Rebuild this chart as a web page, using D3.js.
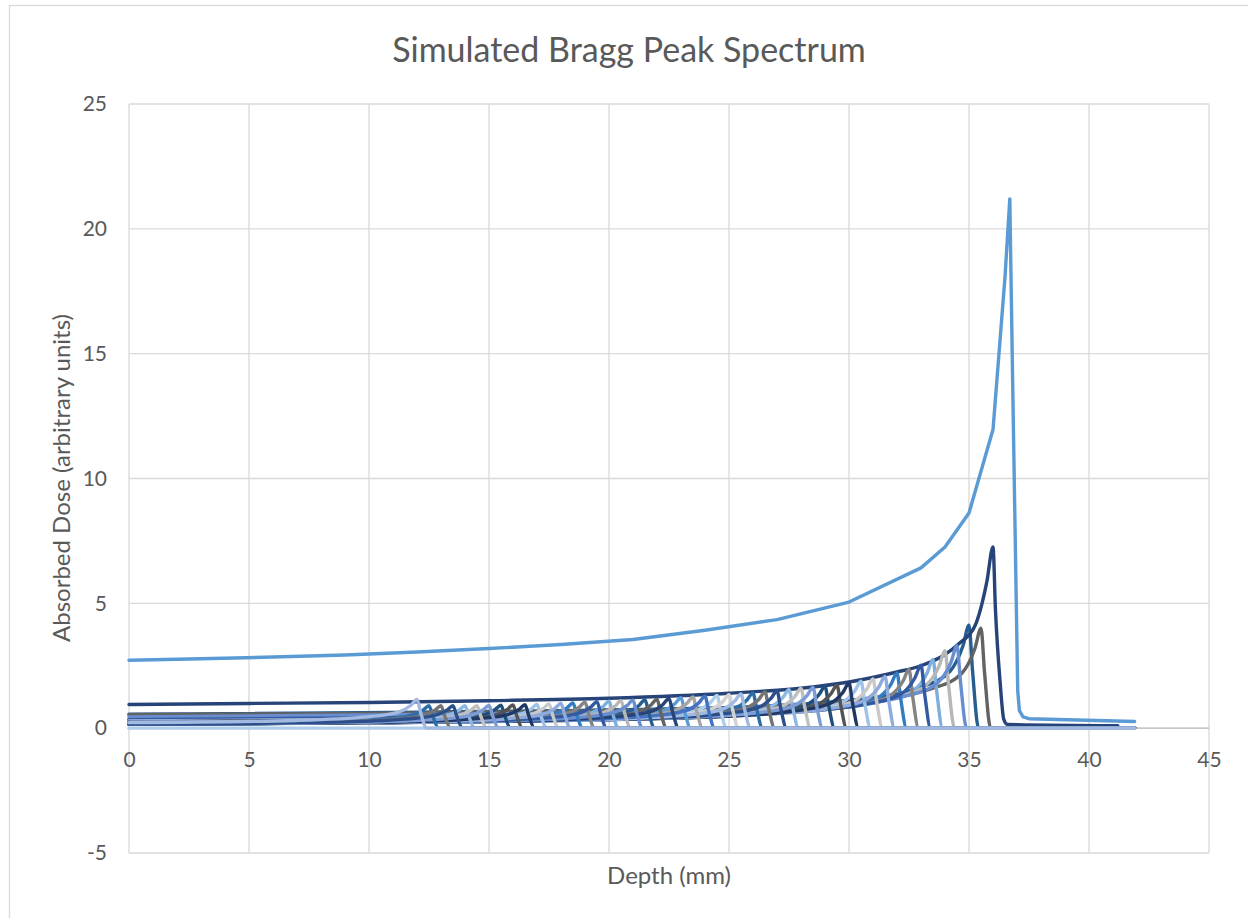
<!DOCTYPE html>
<html><head><meta charset="utf-8">
<script src="https://cdn.jsdelivr.net/npm/d3@7"></script>
<style>html,body{margin:0;padding:0;background:#fff;overflow:hidden}</style>
</head><body><svg id="chart" width="1248" height="918"></svg>
<script>
// ---------- texts & ticks ----------
const chartTitle = "Simulated Bragg Peak Spectrum";
const xAxisTitle = "Depth (mm)";
const yAxisTitle = "Absorbed Dose (arbitrary units)";
const xTickValues = [0, 5, 10, 15, 20, 25, 30, 35, 40, 45];
const yTickValues = [-5, 0, 5, 10, 15, 20, 25];

// ---------- main (highest energy) beam, series 1 ----------
const mainDepths = [0, 3, 6, 9, 12, 15, 18, 21, 24, 27, 30, 33, 34, 35, 36, 36.5, 36.7, 36.8, 36.97, 37.03, 37.1, 37.25, 37.5, 41.9];
const mainDoses  = [2.72, 2.78, 2.85, 2.93, 3.05, 3.19, 3.35, 3.55, 3.92, 4.35, 5.05, 6.42, 7.26, 8.62, 11.96, 18.07, 21.2, 15.0, 5.0, 1.5, 0.7, 0.45, 0.38, 0.27];

// ---------- baseline series (all zero) ----------
const baselineDepths = [0, 41.9];
const baselineDoses  = [0, 0];

// ---------- individual Bragg curves, by peak depth ----------
const peakDepths = [12, 12.5, 13, 13.5, 14, 14.5, 15, 15.5, 16, 16.5, 17, 17.5, 18, 18.5, 19, 19.5,
  20, 20.5, 21, 21.5, 22, 22.5, 23, 23.5, 24, 24.5, 25, 25.5, 26, 26.5, 27, 27.5, 28, 28.5, 29, 29.5,
  30, 30.5, 31, 31.5, 32, 32.5, 33, 33.5, 34, 34.5, 35, 35.5, 36];

const curveDepths = [
  [0,7,10,11.2,11.75,12,12.15,12.4,41.9],
  [0,7.5,10.5,11.7,12.25,12.5,12.65,12.9,41.9],
  [0,8,11,12.2,12.75,13,13.15,13.4,41.9],
  [0,8.5,11.5,12.7,13.25,13.5,13.65,13.9,41.9],
  [0,9,12,13.2,13.75,14,14.15,14.4,41.9],
  [0,9.5,12.5,13.7,14.25,14.5,14.65,14.9,41.9],
  [0,3,10,13,14.2,14.75,15,15.15,15.4,41.9],
  [0,3.5,10.5,13.5,14.7,15.25,15.5,15.65,15.9,41.9],
  [0,4,11,14,15.2,15.75,16,16.15,16.4,41.9],
  [0,4.5,11.5,14.5,15.7,16.25,16.5,16.65,16.9,41.9],
  [0,5,12,15,16.2,16.75,17,17.15,17.4,41.9],
  [0,5.5,12.5,15.5,16.7,17.25,17.5,17.65,17.9,41.9],
  [0,6,13,16,17.2,17.75,18,18.15,18.4,41.9],
  [0,6.5,13.5,16.5,17.7,18.25,18.5,18.65,18.9,41.9],
  [0,7,14,17,18.2,18.75,19,19.15,19.4,41.9],
  [0,7.5,14.5,17.5,18.7,19.25,19.5,19.65,19.9,41.9],
  [0,8,15,18,19.2,19.75,20,20.15,20.4,41.9],
  [0,8.5,15.5,18.5,19.7,20.25,20.5,20.65,20.9,41.9],
  [0,9,16,19,20.2,20.75,21,21.15,21.4,41.9],
  [0,9.5,16.5,19.5,20.7,21.25,21.5,21.65,21.9,41.9],
  [0,10,17,20,21.2,21.75,22,22.15,22.4,41.9],
  [0,10.5,17.5,20.5,21.7,22.25,22.5,22.65,22.9,41.9],
  [0,11,18,21,22.2,22.75,23,23.15,23.4,41.9],
  [0,11.5,18.5,21.5,22.7,23.25,23.5,23.65,23.9,41.9],
  [0,12,19,22,23.2,23.75,24,24.15,24.4,41.9],
  [0,12.5,19.5,22.5,23.7,24.25,24.5,24.65,24.9,41.9],
  [0,13,20,23,24.2,24.75,25,25.15,25.4,41.9],
  [0,13.5,20.5,23.5,24.7,25.25,25.5,25.65,25.9,41.9],
  [0,14,21,24,25.2,25.75,26,26.15,26.4,41.9],
  [0,14.5,21.5,24.5,25.7,26.25,26.5,26.65,26.9,41.9],
  [0,15,22,25,26.2,26.75,27,27.15,27.4,41.9],
  [0,15.5,22.5,25.5,26.7,27.25,27.5,27.65,27.9,41.9],
  [0,16,23,26,27.2,27.75,28,28.15,28.4,41.9],
  [0,16.5,23.5,26.5,27.7,28.25,28.5,28.65,28.9,41.9],
  [0,17,24,27,28.2,28.75,29,29.15,29.4,41.9],
  [0,17.5,24.5,27.5,28.7,29.25,29.5,29.65,29.9,41.9],
  [0,18,25,28,29.2,29.75,30,30.15,30.4,41.9],
  [0,18.5,25.5,28.5,29.7,30.25,30.5,30.65,30.9,41.9],
  [0,19,26,29,30.2,30.75,31,31.15,31.4,41.9],
  [0,19.5,26.5,29.5,30.7,31.25,31.5,31.65,31.9,41.9],
  [0,20,27,30,31.2,31.75,32,32.15,32.4,41.9],
  [0,20.5,27.5,30.5,31.7,32.25,32.5,32.65,32.9,41.9],
  [0,21,28,31,32.2,32.75,33,33.15,33.4,41.9],
  [0,21.5,28.5,31.5,32.7,33.25,33.5,33.65,33.9,41.9],
  [0,22,29,32,33.2,33.75,34,34.15,34.4,41.9],
  [0,22.5,29.5,32.5,33.7,34.25,34.5,34.65,34.9,41.9],
  [0,23,30,33,34.2,34.75,35,35.15,35.4,41.9],
  [0,23.5,30.5,33.5,34.7,35.25,35.5,35.65,35.9,41.9],
  [0,5,10,15,20,25,28,30,32,33,34,34.6,35.25,35.75,36,36.1,36.3,36.45,36.6,41.2]
];

const curveDoses = [
  [0.22,0.31,0.46,0.63,0.92,1.15,0.63,0,0],
  [0.17,0.24,0.36,0.50,0.72,0.90,0.50,0,0],
  [0.17,0.24,0.36,0.50,0.72,0.90,0.50,0,0],
  [0.16,0.24,0.36,0.50,0.72,0.90,0.50,0,0],
  [0.16,0.24,0.36,0.50,0.72,0.90,0.50,0,0],
  [0.16,0.24,0.36,0.50,0.72,0.90,0.50,0,0],
  [0.16,0.17,0.25,0.36,0.50,0.73,0.91,0.50,0,0],
  [0.16,0.17,0.25,0.37,0.51,0.74,0.92,0.51,0,0],
  [0.16,0.18,0.25,0.37,0.51,0.74,0.93,0.51,0,0],
  [0.16,0.18,0.25,0.38,0.52,0.75,0.94,0.52,0,0],
  [0.16,0.18,0.26,0.38,0.52,0.76,0.95,0.52,0,0],
  [0.16,0.18,0.26,0.39,0.53,0.78,0.97,0.53,0,0],
  [0.17,0.19,0.27,0.40,0.54,0.79,0.99,0.54,0,0],
  [0.17,0.19,0.27,0.40,0.56,0.81,1.01,0.56,0,0],
  [0.17,0.20,0.28,0.42,0.57,0.83,1.04,0.57,0,0],
  [0.17,0.20,0.29,0.42,0.58,0.85,1.06,0.58,0,0],
  [0.17,0.21,0.29,0.43,0.59,0.86,1.08,0.59,0,0],
  [0.18,0.21,0.30,0.44,0.61,0.88,1.10,0.61,0,0],
  [0.18,0.21,0.30,0.45,0.62,0.90,1.12,0.62,0,0],
  [0.18,0.22,0.31,0.46,0.63,0.91,1.14,0.63,0,0],
  [0.18,0.22,0.31,0.46,0.64,0.93,1.16,0.64,0,0],
  [0.19,0.23,0.32,0.48,0.65,0.95,1.19,0.65,0,0],
  [0.19,0.23,0.33,0.49,0.67,0.98,1.22,0.67,0,0],
  [0.19,0.24,0.34,0.50,0.69,1.00,1.25,0.69,0,0],
  [0.20,0.24,0.35,0.51,0.70,1.02,1.28,0.70,0,0],
  [0.20,0.25,0.35,0.52,0.72,1.05,1.31,0.72,0,0],
  [0.20,0.25,0.36,0.54,0.74,1.07,1.34,0.74,0,0],
  [0.21,0.26,0.37,0.55,0.75,1.10,1.37,0.75,0,0],
  [0.21,0.27,0.38,0.56,0.78,1.13,1.41,0.78,0,0],
  [0.22,0.28,0.39,0.58,0.80,1.16,1.45,0.80,0,0],
  [0.22,0.28,0.40,0.60,0.82,1.19,1.49,0.82,0,0],
  [0.23,0.29,0.42,0.62,0.85,1.23,1.54,0.85,0,0],
  [0.23,0.30,0.43,0.64,0.87,1.27,1.59,0.87,0,0],
  [0.24,0.31,0.44,0.65,0.90,1.30,1.63,0.90,0,0],
  [0.24,0.32,0.45,0.67,0.92,1.34,1.67,0.92,0,0],
  [0.25,0.33,0.46,0.69,0.95,1.38,1.72,0.95,0,0],
  [0.25,0.34,0.49,0.72,0.99,1.44,1.80,0.99,0,0],
  [0.26,0.36,0.51,0.75,1.03,1.50,1.88,1.03,0,0],
  [0.28,0.37,0.53,0.79,1.08,1.58,1.97,1.08,0,0],
  [0.29,0.39,0.56,0.83,1.14,1.66,2.07,1.14,0,0],
  [0.31,0.42,0.59,0.88,1.21,1.76,2.20,1.21,0,0],
  [0.32,0.45,0.63,0.94,1.29,1.88,2.35,1.29,0,0],
  [0.34,0.48,0.68,1.01,1.39,2.02,2.52,1.39,0,0],
  [0.37,0.52,0.74,1.10,1.51,2.20,2.75,1.51,0,0],
  [0.42,0.59,0.84,1.24,1.71,2.48,3.10,1.71,0,0],
  [0.45,0.63,0.89,1.32,1.82,2.64,3.30,1.82,0,0],
  [0.56,0.78,1.11,1.65,2.27,3.30,4.12,2.27,0,0],
  [0.54,0.76,1.08,1.60,2.20,3.20,4.00,2.20,0,0],
  [0.95,0.99,1.03,1.10,1.20,1.40,1.60,1.85,2.25,2.50,2.95,3.40,4.10,5.90,7.26,4.80,1.80,0.35,0.15,0.10]
];

// ---------- styling (Office theme, Excel series colour variations) ----------
const baseColors = ["#5B9BD5", "#A5A5A5", "#4472C4"];
const colorVariations = [[1,0],[0.6,0],[0.8,0.2],[0.8,0],[0.6,0.4],[0.5,0],[0.7,0.3],[0.7,0],[0.5,0.5]];
function seriesColor(s) {           // s: 1-based Excel series number
  const c = (s - 1) % 27;
  const hsl = d3.hsl(baseColors[c % 3]);
  const v = colorVariations[Math.floor(c / 3)];
  hsl.l = hsl.l * v[0] + v[1];
  return hsl.formatHex();
}
const FONT = "Lato, 'Open Sans', sans-serif";
const TEXT = "#595959";
const GRID = "#D9D9D9";

const W = 1248, H = 918;
const plot = {left: 129, right: 1209, top: 104, bottom: 853};

const svg = d3.select("#chart");
svg.append("rect").attr("width", W).attr("height", H).attr("fill", "#fff");
svg.append("rect").attr("x", 9.5).attr("y", 5.5).attr("width", 1300).attr("height", 1000)
   .attr("fill", "none").attr("stroke", GRID).attr("stroke-width", 1.3);

const x = d3.scaleLinear().domain([0, 45]).range([plot.left, plot.right]);
const y = d3.scaleLinear().domain([-5, 25]).range([plot.bottom, plot.top]);

// gridlines
svg.append("g").selectAll("line").data(yTickValues).join("line")
  .attr("x1", plot.left).attr("x2", plot.right)
  .attr("y1", d => y(d)).attr("y2", d => y(d))
  .attr("stroke", GRID).attr("stroke-width", 1.3);
svg.append("g").selectAll("line").data(xTickValues).join("line")
  .attr("x1", d => x(d)).attr("x2", d => x(d))
  .attr("y1", plot.top).attr("y2", plot.bottom)
  .attr("stroke", GRID).attr("stroke-width", 1.3);
// horizontal axis line at 0
svg.append("line").attr("x1", plot.left).attr("x2", plot.right)
  .attr("y1", y(0)).attr("y2", y(0)).attr("stroke", "#BFBFBF").attr("stroke-width", 1.3);

// tick labels via d3 axes
const fmt = d => String(d);
const yAxis = d3.axisLeft(y).tickValues(yTickValues).tickFormat(fmt).tickSize(0).tickPadding(22);
const gy = svg.append("g").attr("transform", `translate(${plot.left},0)`).call(yAxis);
const xAxis = d3.axisBottom(x).tickValues(xTickValues).tickFormat(fmt).tickSize(0).tickPadding(24);
const gx = svg.append("g").attr("transform", `translate(0,${y(0)})`).call(xAxis);
[gx, gy].forEach(g => {
  g.select(".domain").remove();
  g.selectAll("text").attr("font-family", FONT).attr("font-size", 21).attr("fill", TEXT);
});

// series
const lineGen = d3.line().x(d => x(d[0])).y(d => y(d[1]));
const series = [];
series.push({s: 1, pts: d3.zip(mainDepths, mainDoses), curve: d3.curveLinear});
peakDepths.forEach((p, i) => {
  const o = Math.round((36 - p) / 0.5);
  const s = 4 + 3 * Math.floor(o / 3) + (2 - (o % 3));
  series.push({s, pts: d3.zip(curveDepths[i], curveDoses[i]), curve: d3.curveMonotoneX});
});
series.push({s: 52, pts: d3.zip(baselineDepths, baselineDoses), curve: d3.curveLinear});
series.sort((a, b) => a.s - b.s);

svg.append("g").selectAll("path").data(series).join("path")
  .attr("d", d => lineGen.curve(d.curve)(d.pts))
  .attr("fill", "none")
  .attr("stroke", d => seriesColor(d.s))
  .attr("stroke-width", 3.4)
  .attr("stroke-linejoin", "round")
  .attr("stroke-linecap", "round");

// titles
svg.append("text").attr("x", 629).attr("y", 62).attr("text-anchor", "middle")
  .attr("font-family", FONT).attr("font-size", 34).attr("fill", TEXT).text(chartTitle);
svg.append("text").attr("x", 669).attr("y", 884).attr("text-anchor", "middle")
  .attr("font-family", FONT).attr("font-size", 24).attr("fill", TEXT).text(xAxisTitle);
svg.append("text").attr("transform", "translate(70,478) rotate(-90)").attr("text-anchor", "middle")
  .attr("font-family", FONT).attr("font-size", 24).attr("fill", TEXT).text(yAxisTitle);
</script></body></html>
